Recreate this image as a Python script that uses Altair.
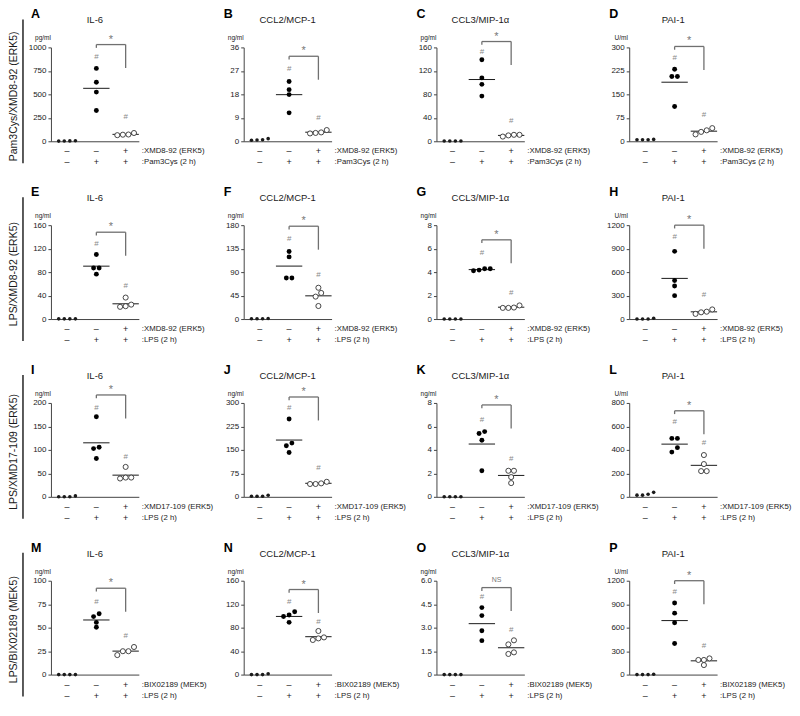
import altair as alt
import pandas as pd

FONT = "Liberation Sans"

# ---------------- data ----------------
LETTERS = list("ABCDEFGHIJKLMNOP")
TITLES = ["IL-6", "CCL2/MCP-1", "CCL3/MIP-1α", "PAI-1"] * 4
UNITS = ["pg/ml", "ng/ml", "pg/ml", "U/ml",
         "ng/ml", "ng/ml", "ng/ml", "U/ml",
         "ng/ml", "ng/ml", "ng/ml", "U/ml",
         "ng/ml", "ng/ml", "ng/ml", "U/ml"]
Y_MAX = [1000, 36, 160, 300,
         160, 180, 8, 1200,
         200, 300, 8, 800,
         100, 160, 6, 1200]

ROW_LABELS = ["Pam3Cys/XMD8-92 (ERK5)", "LPS/XMD8-92 (ERK5)",
              "LPS/XMD17-109 (ERK5)", "LPS/BIX02189 (MEK5)"]
INHIBITORS = [":XMD8-92 (ERK5)", ":XMD8-92 (ERK5)",
              ":XMD17-109 (ERK5)", ":BIX02189 (MEK5)"]
STIMULI = [":Pam3Cys (2 h)", ":LPS (2 h)", ":LPS (2 h)", ":LPS (2 h)"]
SIGNS_INHIBITOR = ["–", "–", "+"]
SIGNS_STIMULUS = ["–", "+", "+"]

# control (–/–)
CONTROL = [
    [3, 2, 4, 6], [0.5, 0.4, 0.6, 1.0], [0.5, 0.5, 0.5, 0.5], [5, 5, 5, 6],
    [0.3, 0.3, 0.3, 0.3], [0.5, 0.5, 0.5, 1.0], [0, 0, 0, 0], [0, 0, 0, 10],
    [0, 0, 0, 2], [2, 2, 2, 5], [0, 0, 0, 0], [22, 14, 14, 38],
    [0, 0, 0, 0], [0, 0, 0, 1.5], [0, 0, 0, 0], [0, 0, 0, 5],
]
# stimulus only (–/+)
STIMULATED = [
    [776, 628, 524, 328], [22.9, 19.8, 17.9, 10.9], [139, 108, 97, 77], [230, 207, 207, 111],
    [110, 87, 87, 76.5], [129.6, 119.2, 78.6, 78.6], [4.28, 4.12, 4.17, 4.28], [865, 492, 422, 299],
    [170.5, 105.5, 102.7, 81.5], [248.7, 171.6, 163.4, 141.8], [5.39, 5.56, 4.82, 2.22], [498, 498, 419, 381],
    [64.8, 61.8, 55.6, 50.5], [107, 101.6, 98.9, 89], [4.28, 3.77, 2.8, 2.17], [915, 785, 663, 398],
]
# inhibitor + stimulus (+/+)
INHIBITED = [
    [70, 65, 72, 88], [3.4, 3.0, 3.2, 4.3], [11, 8, 10, 11], [42, 35, 30, 22],
    [36.6, 24.6, 20.8, 21.9], [60, 50, 43, 25], [0.98, 0.95, 0.95, 1.16], [94, 66, 86, 123],
    [63.7, 41, 39, 41], [43, 41, 41, 48], [2.22, 2.22, 1.68, 1.17], [356, 279, 219, 219],
    [29.4, 24.9, 24.9, 20.8], [74.3, 63.4, 59, 61.7], [2.19, 1.93, 1.42, 1.32], [207, 187, 187, 122],
]
# "#" marks (value level) for the stimulated and inhibited groups
HASH_STIM = [902, 27.8, 152, 267, 128, 154, 5.64, 1044, 190, 282.6, 6.56, 636, 77.8, 123.5, 4.93, 1057]
HASH_INH = [258, 8.8, 35, 84, 56, 83.5, 2.25, 307, 85.6, 91.5, 3.25, 458, 41, 90, 2.86, 366]
# bracket level between stimulated and inhibited groups
BRACKET = [1030, 32.6, 170, 303, 148, 178, 6.75, 1200, 217, 319, 7.83, 733, 92, 145, 5.56, 1200]
SIG = ["*"] * 14 + ["NS", "*"]

# ---------------- layout ----------------
W, H = 88, 94
COL_GAP, ROW_GAP = 105, 84
INK = "#1a1a1a"
GRAY = "#8a8a8a"


def jitter(vals, vmax, thresh_px=4.5, step=0.19):
    order = sorted(range(len(vals)), key=lambda i: vals[i])
    clusters = []
    for i in order:
        if clusters and (vals[i] - vals[clusters[-1][-1]]) / vmax * H < thresh_px:
            clusters[-1].append(i)
        else:
            clusters.append([i])
    off = [0.0] * len(vals)
    for c in clusters:
        n = len(c)
        for k, i in enumerate(c):
            off[i] = (k - (n - 1) / 2) * step
    return off


def one(**kw):
    return pd.DataFrame([kw])


def make_panel(p):
    m = Y_MAX[p]
    row = p // 4
    col = p % 4
    recs = []
    for g, vals in ((1, CONTROL[p]), (2, STIMULATED[p]), (3, INHIBITED[p])):
        for v, o in zip(vals, jitter(vals, m)):
            recs.append({"x": g + o, "y": v, "g": g})
    dots = pd.DataFrame(recs)

    xs = alt.Scale(domain=[0.45, 3.45], nice=False, zero=False)
    ys = alt.Scale(domain=[0, m], nice=False, zero=True)
    xaxis = alt.Axis(labels=False, ticks=False, title=None, grid=False,
                     domainColor="#444", domainWidth=1)
    if p == 14:
        lab = "datum.value == 0 ? '0' : format(datum.value, '.1f')"
    else:
        lab = "format(datum.value, 'd')"
    yaxis = alt.Axis(values=[0, m / 4, m / 2, 3 * m / 4, m], title=None, grid=False,
                     tickSize=3, tickColor="#444", domainColor="#444", domainWidth=1,
                     labelFont=FONT, labelFontSize=8, labelColor=INK, labelPadding=2,
                     labelExpr=lab)
    X = alt.X("x:Q", scale=xs, axis=xaxis)
    Y = alt.Y("y:Q", scale=ys, axis=yaxis)

    layers = []

    # mean lines
    means = pd.DataFrame([
        {"x": g - 0.45, "x2": g + 0.45, "y": sum(v) / len(v)}
        for g, v in ((2, STIMULATED[p]), (3, INHIBITED[p]))
    ])
    layers.append(alt.Chart(means).mark_rule(color=INK, strokeWidth=1).encode(
        x=X, x2="x2:Q", y=Y))

    # bracket
    b = BRACKET[p]
    br = pd.DataFrame([
        {"x": 2, "x2": 3, "y": b, "y2": b},
        {"x": 2, "x2": 2, "y": b, "y2": b - 0.035 * m},
        {"x": 3, "x2": 3, "y": b, "y2": b - 0.25 * m},
    ])
    layers.append(alt.Chart(br).mark_rule(color="#707070", strokeWidth=1.3).encode(
        x=X, x2="x2:Q", y=Y, y2="y2:Q"))
    layers.append(alt.Chart(one(x=2.5, y=b, t=SIG[p])).mark_text(
        font=FONT, fontSize=11 if SIG[p] == "*" else 7, color="#777777",
        dy=-5 if SIG[p] == "*" else -8, baseline="middle").encode(x=X, y=Y, text="t:N"))

    # hash marks
    hs = pd.DataFrame({"x": [2, 3], "y": [HASH_STIM[p], HASH_INH[p]]})
    layers.append(alt.Chart(hs).mark_text(text="#", font=FONT, fontSize=8, color=GRAY,
                                          baseline="middle").encode(x=X, y=Y))

    # dots
    layers.append(alt.Chart(dots[dots.g == 1]).mark_circle(size=13, color=INK, opacity=1)
                  .encode(x=X, y=Y))
    layers.append(alt.Chart(dots[dots.g == 2]).mark_circle(size=24, color="#000", opacity=1)
                  .encode(x=X, y=Y))
    layers.append(alt.Chart(dots[dots.g == 3]).mark_point(
        shape="circle", size=26, filled=False, fill="white", fillOpacity=1,
        stroke="#333", strokeWidth=0.9, opacity=1).encode(x=X, y=Y))

    # sign rows
    sg = pd.DataFrame({"x": [1, 2, 3], "s1": SIGNS_INHIBITOR, "s2": SIGNS_STIMULUS})
    layers.append(alt.Chart(sg).mark_text(font=FONT, fontSize=9, color=INK, baseline="middle")
                  .encode(x=X, y=alt.value(H + 10), text="s1:N"))
    layers.append(alt.Chart(sg).mark_text(font=FONT, fontSize=9, color=INK, baseline="middle")
                  .encode(x=X, y=alt.value(H + 21), text="s2:N"))
    layers.append(alt.Chart(one(t=INHIBITORS[row])).mark_text(
        font=FONT, fontSize=7.8, color=INK, align="left", baseline="middle")
        .encode(x=alt.value(W + 3), y=alt.value(H + 10), text="t:N"))
    layers.append(alt.Chart(one(t=STIMULI[row])).mark_text(
        font=FONT, fontSize=7.8, color=INK, align="left", baseline="middle")
        .encode(x=alt.value(W + 3), y=alt.value(H + 21), text="t:N"))

    # panel letter, title, unit
    layers.append(alt.Chart(one(t=LETTERS[p])).mark_text(
        font=FONT, fontSize=12.5, fontWeight="bold", color="#000", align="left", baseline="middle")
        .encode(x=alt.value(-20), y=alt.value(-33), text="t:N"))
    layers.append(alt.Chart(one(t=TITLES[p])).mark_text(
        font=FONT, fontSize=9.5, color=INK, align="center", baseline="middle")
        .encode(x=alt.value(W / 2), y=alt.value(-27), text="t:N"))
    layers.append(alt.Chart(one(t=UNITS[p])).mark_text(
        font=FONT, fontSize=6.5, color=INK, align="center", baseline="middle")
        .encode(x=alt.value(-8), y=alt.value(-9), text="t:N"))

    # row label
    if col == 0:
        layers.append(alt.Chart(one(t=ROW_LABELS[row])).mark_text(
            font=FONT, fontSize=10.5, color=INK, angle=270, align="center", baseline="middle")
            .encode(x=alt.value(-37), y=alt.value(H / 2 + 2), text="t:N"))
        layers.append(alt.Chart(one(a=0)).mark_rule(color="#333", strokeWidth=1.6)
                      .encode(x=alt.value(-28), y=alt.value(-28), y2=alt.value(H + 22)))

    return alt.layer(*layers).properties(width=W, height=H)


panels = [make_panel(p) for p in range(16)]

chart = alt.concat(
    *panels, columns=4, spacing={"row": ROW_GAP, "column": COL_GAP}, bounds="flush"
).properties(
    padding={"left": 0, "top": 0, "right": 0, "bottom": 0}
).configure_view(stroke=None)

chart.save("out.html", embed_options={"renderer": "svg", "actions": False})
